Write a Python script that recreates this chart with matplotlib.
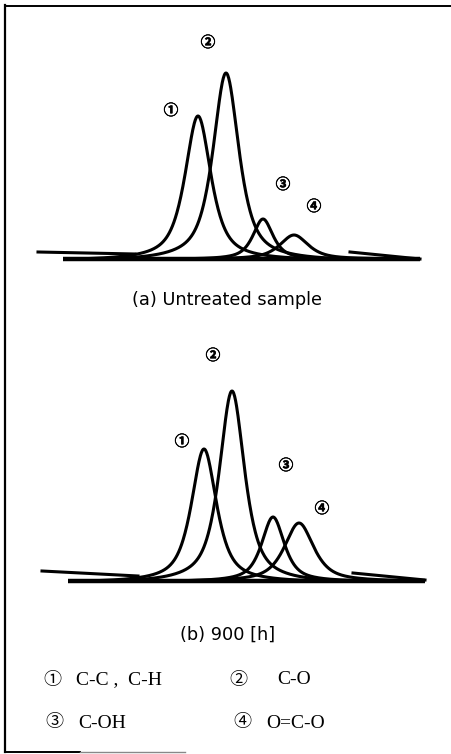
import numpy as np
import matplotlib
matplotlib.use('Agg')
import matplotlib.pyplot as plt
import matplotlib.patheffects as pe
from matplotlib.lines import Line2D

W, H = 452, 754

# peak parameters (position, height, FWHM in px-like units)
centers_a = [198, 226, 263, 294]
heights_a = [143, 186, 40, 24]
fwhm_a = [31, 31, 24, 34]
centers_b = [204, 232, 273, 299]
heights_b = [132, 190, 64, 58]
fwhm_b = [30, 30, 27, 35]

# raw-spectrum ends outside the fitted region
bg_left_a = ([38, 135], [7, 5])
bg_right_a = ([350, 420], [7, 0])
bg_left_b = ([42, 138], [10, 5])
bg_right_b = ([353, 425], [8, 1])
base_a = [63, 420]
base_b = [68, 425]

labels = ['①', '②', '③', '④']
species = ['C-C ,  C-H', 'C-O', 'C-OH', 'O=C-O']
caption_a = '(a) Untreated sample'
caption_b = '(b) 900 [h]'


def peak(x, c, h, w, eta=0.75):
    g = np.exp(-4 * np.log(2) * (x - c) ** 2 / w ** 2)
    l = 1 / (1 + 4 * (x - c) ** 2 / w ** 2)
    return h * (eta * l + (1 - eta) * g)


def px(x, y):
    return x / W, 1 - y / H


def draw_panel(fig, baseline_px, centers, heights, fwhm, bg_l, bg_r, base):
    ax = fig.add_axes([0, (H - baseline_px - 10) / H, 1, 210 / H])
    ax.set_xlim(0, W)
    ax.set_ylim(-10, 200)
    ax.axis('off')
    ax.plot(base, [0, 0], color='black', lw=3.2, solid_capstyle='butt')
    ax.plot(*bg_l, color='black', lw=2.2)
    ax.plot(*bg_r, color='black', lw=2.2)
    for c, h, w in zip(centers, heights, fwhm):
        x = np.linspace(max(c - 4 * w, base[0]), min(c + 4 * w, base[1] - 5), 500)
        y = peak(x, c, h, w)
        edge = peak(c + 4 * w, c, h, w)
        y = np.clip((y - edge) * h / (h - edge), 0, None)
        ax.plot(x, y, color='black', lw=2.2)
    return ax


fig = plt.figure(figsize=(W / 100, H / 100), dpi=100)
fig.patch.set_facecolor('white')

draw_panel(fig, 259, centers_a, heights_a, fwhm_a, bg_left_a, bg_right_a, base_a)
draw_panel(fig, 581, centers_b, heights_b, fwhm_b, bg_left_b, bg_right_b, base_b)

circ_font = ['Noto Sans CJK JP', 'DejaVu Sans']
lab_pos_a = [(171, 110), (208, 42), (283, 184), (314, 206)]
lab_pos_b = [(182, 441), (213, 355), (286, 465), (322, 508)]
for pos_list in (lab_pos_a, lab_pos_b):
    for lab, (x, y) in zip(labels, pos_list):
        t = fig.text(*px(x, y), lab, family=circ_font, fontsize=10.5, fontweight='bold',
                     ha='center', va='center')
        t.set_path_effects([pe.withStroke(linewidth=0.4, foreground='black')])

fig.text(*px(227, 300), caption_a, family='DejaVu Sans', fontsize=12.8,
         ha='center', va='center')
fig.text(*px(228, 635), caption_b, family='DejaVu Sans', fontsize=12.8,
         ha='center', va='center')

serif = ['Liberation Serif', 'Noto Sans CJK JP', 'DejaVu Sans']
leg_num = [(52, 680), (238, 680), (54, 723), (242, 723)]
leg_txt = [(76, 680), (277, 680), (78, 723), (266, 723)]
for lab, sp, (nx, ny), (tx, ty) in zip(labels, species, leg_num, leg_txt):
    fig.text(*px(nx, ny), lab, family=serif, fontsize=13, ha='center', va='center')
    fig.text(*px(tx, ty), sp, family=serif, fontsize=14, ha='left', va='center')

# frame (no right edge in the scan, bottom edge fades out)
fig.add_artist(Line2D([5 / W, 5 / W], [1 - 5 / H, 1 - 752 / H], color='black', lw=1.6))
fig.add_artist(Line2D([5 / W, 1], [1 - 6 / H, 1 - 6 / H], color='black', lw=1.4))
fig.add_artist(Line2D([5 / W, 80 / W], [1 - 752 / H, 1 - 752 / H], color='black', lw=1.4))
fig.add_artist(Line2D([80 / W, 185 / W], [1 - 752 / H, 1 - 752 / H], color='#888888', lw=1.0))

fig.savefig('out.png', dpi=100)
